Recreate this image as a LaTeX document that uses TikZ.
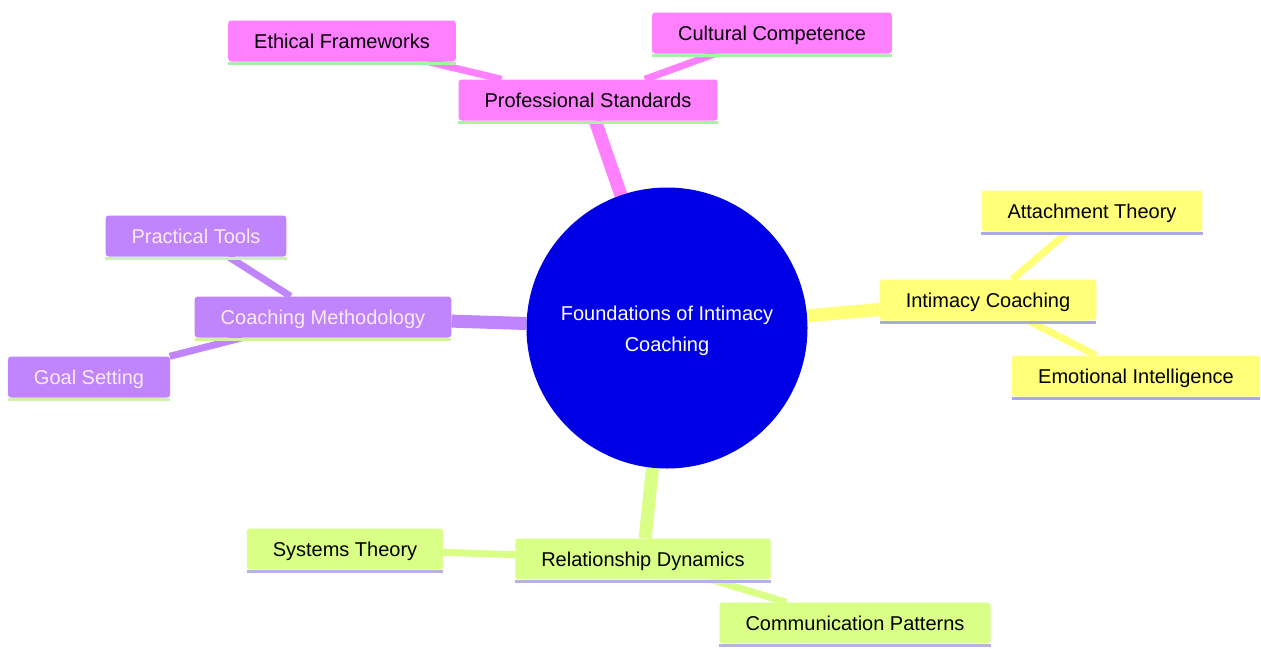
\documentclass[tikz,border=0pt]{standalone}
\usepackage{fontspec}
\setmainfont{Liberation Sans}
\usetikzlibrary{backgrounds}

\definecolor{hubblue}{HTML}{0000E6}
\definecolor{pinksec}{HTML}{FF80FF}
\definecolor{purpsec}{HTML}{C084FC}
\definecolor{yellsec}{HTML}{FFFF78}
\definecolor{greensec}{HTML}{D9FF86}
\definecolor{pinkline}{HTML}{A6F2A6}
\definecolor{purpline}{HTML}{CFF2A6}
\definecolor{yellline}{HTML}{A9A9E6}
\definecolor{greenline}{HTML}{B9B0E8}

\tikzset{
  topic/.style={rounded corners=3pt, inner xsep=26pt, minimum height=41pt,
    text depth=0pt, fill=#1sec, font=\fontsize{20}{24}\selectfont,
    append after command={([yshift=-1.5pt]\tikzlastnode.south west)
      edge[draw=#1line, line width=3pt] ([yshift=-1.5pt]\tikzlastnode.south east)}},
  trunk/.style={line width=13pt, draw=#1sec},
  twig/.style={line width=7pt, draw=#1sec},
}

\begin{document}
\begin{tikzpicture}[x=1pt, y=-1pt]
  \useasboundingbox (0,0) rectangle (1261,648);

  % centre
  \node[circle, fill=hubblue, minimum size=281pt, text=white, align=center,
    font=\fontsize{20}{31}\selectfont] (hub) at (667,328)
    {\\[-10pt]Foundations of Intimacy\\Coaching};

  % professional standards
  \node[topic=pink] (prof) at (588,100) {Professional Standards};
  \node[topic=pink] (ethic) at (342,41) {Ethical Frameworks};
  \node[topic=pink] (cult) at (772,33) {Cultural Competence};

  % intimacy coaching
  \node[topic=yell] (intim) at (988,300) {Intimacy Coaching};
  \node[topic=yell] (attach) at (1092,211) {Attachment Theory};
  \node[topic=yell] (emot) at (1136,376) {Emotional Intelligence};

  % coaching methodology
  \node[topic=purp, text=white!92!purple] (method) at (323,317) {Coaching Methodology};
  \node[topic=purp, text=white!92!purple] (tools) at (196,236) {Practical Tools};
  \node[topic=purp, text=white!92!purple] (goal) at (89,377) {Goal Setting};

  % relationship dynamics
  \node[topic=green] (rel) at (643,559) {Relationship Dynamics};
  \node[topic=green] (sys) at (345,549) {Systems Theory};
  \node[topic=green] (comm) at (855,623) {Communication Patterns};

  \begin{scope}[on background layer]
    \fill[white] (0,0) rectangle (1261,648);

    \draw[trunk=pink] (hub) -- (prof);
    \draw[twig=pink] (prof) -- (ethic);
    \draw[twig=pink] (prof) -- (cult);

    \draw[trunk=yell] (hub) -- (intim);
    \draw[twig=yell] (intim) -- (attach);
    \draw[twig=yell] (intim) -- (emot);

    \draw[trunk=purp] (hub) -- (method);
    \draw[twig=purp] (method) -- (tools);
    \draw[twig=purp] (method) -- (goal);

    \draw[trunk=green] (hub) -- (rel);
    \draw[twig=green] (rel) -- (sys);
    \draw[twig=green] (rel) -- (comm);
  \end{scope}
\end{tikzpicture}
\end{document}
